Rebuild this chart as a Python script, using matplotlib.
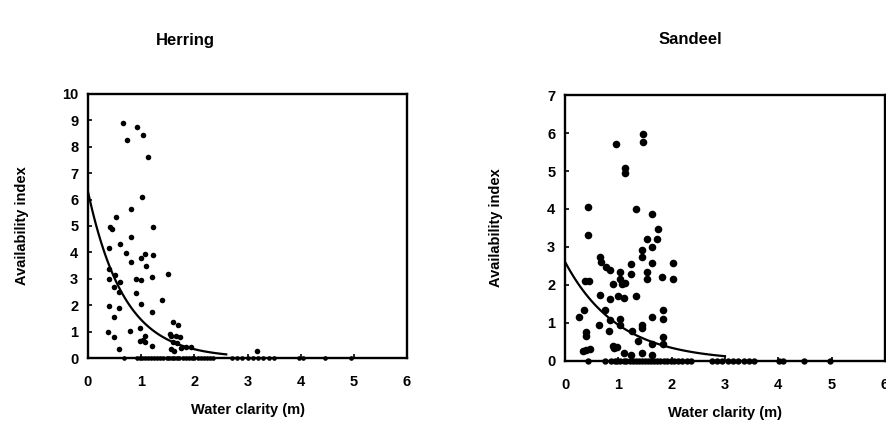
import numpy as np
import matplotlib
matplotlib.use("Agg")
import matplotlib.pyplot as plt

plt.rcParams['font.family'] = ['Liberation Sans', 'DejaVu Sans']
plt.rcParams['font.weight'] = 'bold'

# Herring: water clarity (m) vs availability index
herring_x = [0.65, 0.93, 1.03, 0.73, 1.13, 1.01, 0.81, 0.52, 0.41, 0.45, 1.22, 0.81,
             0.61, 0.39, 0.71, 1.08, 1.22, 0.99, 0.80, 1.10, 0.39, 1.50, 0.51, 1.20,
             0.39, 0.90, 0.99, 0.60, 0.49, 0.59, 0.90, 1.40, 0.99, 0.39, 0.59, 1.20,
             0.49, 1.59, 1.69, 0.98, 0.79, 0.37, 0.49, 1.07, 1.57, 1.73, 0.98, 1.03,
             1.07, 1.20, 0.58, 1.55, 1.65, 1.60, 1.68, 1.57, 1.62, 1.75, 1.85, 1.93,
             3.17]
herring_y = [8.91, 8.76, 8.45, 8.26, 7.63, 6.09, 5.64, 5.35, 4.97, 4.90, 4.95, 4.57,
             4.32, 4.15, 3.99, 3.94, 3.90, 3.78, 3.62, 3.48, 3.36, 3.17, 3.14, 3.08,
             2.98, 2.98, 2.95, 2.88, 2.68, 2.51, 2.47, 2.20, 2.03, 1.98, 1.91, 1.76,
             1.54, 1.38, 1.25, 1.12, 1.03, 1.00, 0.81, 0.83, 0.83, 0.81, 0.65, 0.70,
             0.62, 0.45, 0.34, 0.90, 0.85, 0.60, 0.55, 0.35, 0.25, 0.38, 0.42, 0.40,
             0.28]
herring_zero_x = [0.68, 0.92, 0.98, 1.02, 1.08, 1.12, 1.18, 1.24, 1.30, 1.36, 1.42,
                  1.48, 1.52, 1.58, 1.62, 1.68, 1.72, 1.78, 1.84, 1.90, 1.96, 2.00,
                  2.06, 2.12, 2.18, 2.24, 2.30, 2.36, 2.70, 2.80, 2.90, 3.00, 3.10,
                  3.20, 3.30, 3.40, 3.50, 3.97, 4.05, 4.45, 4.94]

# Sandeel
sandeel_x = [1.46, 1.46, 0.95, 1.13, 1.13, 0.43, 1.33, 1.63, 1.74, 0.43, 1.53, 1.73,
             1.64, 1.44, 1.44, 0.65, 0.68, 0.76, 0.85, 1.23, 1.64, 2.03, 0.38, 0.45,
             1.03, 1.03, 1.24, 1.53, 1.53, 1.81, 2.03, 0.90, 1.07, 1.12, 0.99, 1.10,
             1.33, 0.65, 0.85, 0.35, 0.26, 0.75, 1.83, 1.83, 1.63, 0.85, 1.03, 1.03,
             0.63, 1.44, 1.44, 0.40, 0.40, 0.82, 1.26, 1.37, 1.83, 1.83, 1.63, 0.40,
             0.47, 0.33, 0.90, 0.92, 0.97, 1.10, 1.23, 1.44, 1.63]
sandeel_y = [5.97, 5.77, 5.70, 5.07, 4.96, 4.06, 3.99, 3.87, 3.47, 3.32, 3.20, 3.20,
             3.01, 2.92, 2.74, 2.74, 2.60, 2.47, 2.40, 2.54, 2.59, 2.57, 2.10, 2.10,
             2.35, 2.17, 2.30, 2.33, 2.17, 2.20, 2.15, 2.03, 2.03, 2.05, 1.70, 1.65,
             1.72, 1.74, 1.63, 1.34, 1.17, 1.33, 1.33, 1.10, 1.16, 1.07, 1.10, 0.94,
             0.94, 0.95, 0.88, 0.75, 0.65, 0.79, 0.79, 0.53, 0.63, 0.44, 0.44, 0.30,
             0.32, 0.25, 0.40, 0.35, 0.38, 0.20, 0.15, 0.22, 0.17]
sandeel_zero_x = [0.44, 0.75, 0.87, 0.93, 0.98, 1.04, 1.10, 1.15, 1.21, 1.27, 1.33,
                  1.38, 1.44, 1.50, 1.56, 1.61, 1.67, 1.73, 1.79, 1.85, 1.92, 1.98,
                  2.05, 2.12, 2.20, 2.28, 2.36, 2.75, 2.85, 2.95, 3.05, 3.15, 3.25,
                  3.35, 3.45, 3.55, 4.02, 4.09, 4.48, 4.97]

# fitted exponential curves  y = a * exp(-b x)
herring_fit = (6.3, 1.47, 2.6)   # a, b, x end
sandeel_fit = (2.61, 1.01, 3.0)

fig = plt.figure(figsize=(8.87, 4.45), dpi=100)
ax1 = fig.add_axes([0.0992, 0.1955, 0.3597, 0.5933])
ax2 = fig.add_axes([0.637, 0.1888, 0.3607, 0.5977])

def panel(ax, xs, ys, zx, fit, ymax, ms, ypad):
    ax.scatter(xs, ys, s=ms, c='black', marker='o', linewidths=0, zorder=3)
    ax.scatter(zx, [0] * len(zx), s=ms * 0.7, c='black', marker='o', linewidths=0,
               zorder=3, clip_on=False)
    a, b, xe = fit
    xx = np.linspace(0, xe, 100)
    ax.plot(xx, a * np.exp(-b * xx), color='black', lw=1.6, zorder=2)
    ax.set_xlim(0, 6)
    ax.set_ylim(0, ymax)
    ax.set_xticks(range(0, 7))
    ax.set_yticks(range(0, ymax + 1))
    for s in ax.spines.values():
        s.set_linewidth(1.7)
    ax.tick_params(direction='in', length=3, width=1.2, labelsize=10.5)
    ax.tick_params(axis='x', pad=12)
    ax.tick_params(axis='y', pad=7)
    for lab in ax.get_xticklabels() + ax.get_yticklabels():
        lab.set_fontweight('heavy')
    ax.set_xlabel('Water clarity (m)', fontsize=10.5, fontweight='heavy', labelpad=10)
    ax.set_ylabel('Availability index', fontsize=10.5, fontweight='heavy', labelpad=ypad)

panel(ax1, herring_x, herring_y, herring_zero_x, herring_fit, 10, 16, 24)
panel(ax2, sandeel_x, sandeel_y, sandeel_zero_x, sandeel_fit, 7, 30, 32)

fig.text(185 / 887, 1 - 40 / 445, 'Herring', ha='center', va='center',
         fontsize=12, fontweight='heavy')
fig.text(690 / 887, 1 - 40 / 445, 'Sandeel', ha='center', va='center',
         fontsize=12, fontweight='heavy')

fig.savefig('out.png', dpi=100)
